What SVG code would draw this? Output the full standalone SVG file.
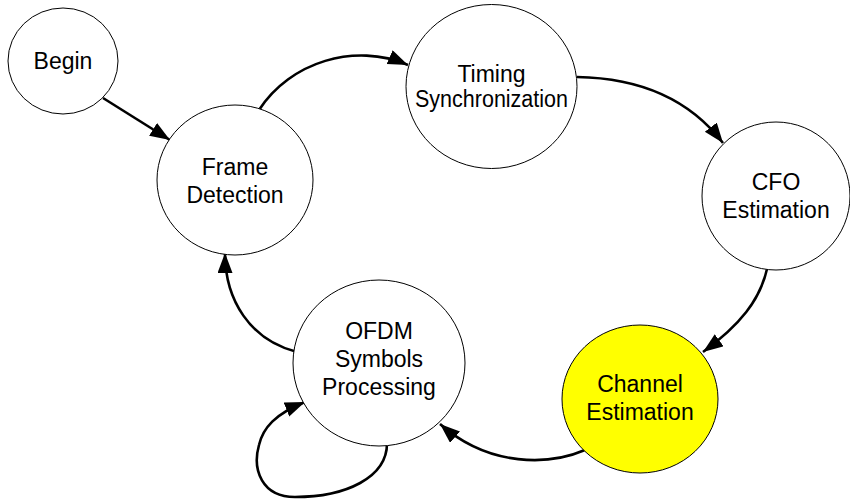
<svg xmlns="http://www.w3.org/2000/svg" width="850" height="500" viewBox="0 0 850 500">
<defs>
<style>
.n{fill:#fff;stroke:#000;stroke-width:1}
.y{fill:#ffff00;stroke:#000;stroke-width:1}
.t{font-family:"Liberation Sans",Arial,sans-serif;font-size:23px;fill:#000;text-anchor:middle}
.c{fill:none;stroke:#000;stroke-width:2.6}
</style>
<marker id="ah" markerUnits="userSpaceOnUse" markerWidth="22" markerHeight="16" refX="20" refY="7.5" orient="auto">
<path d="M0,0 L20,7.5 L0,15 z" fill="#000"/>
</marker>
</defs>
<g id="connectors">
<path class="c" d="M103,98 L170,140" marker-end="url(#ah)"/>
<path class="c" d="M259,110 C290,62 355,42 408,65" marker-end="url(#ah)"/>
<path class="c" d="M577,77 C640,78 690,100 723,143" marker-end="url(#ah)"/>
<path class="c" d="M767,269 C760,300 740,325 703,352" marker-end="url(#ah)"/>
<path class="c" d="M585,450 C550,465 490,468 440,424" marker-end="url(#ah)"/>
<path class="c" d="M297,352 C250,340 225,300 225,253" marker-end="url(#ah)"/>
<path class="c" d="M387,442 C388,478 345,497 295,497 C262,497 252,470 259,445 C263,428 275,414 305,402" marker-end="url(#ah)"/>
</g>
<g id="begin"><ellipse class="n" cx="63" cy="61" rx="55" ry="53"/><text class="t" x="63" y="69">Begin</text></g>
<g id="frame"><ellipse class="n" cx="235" cy="180" rx="78" ry="75"/><text class="t" x="235" y="175">Frame</text><text class="t" x="235" y="203">Detection</text></g>
<g id="timing"><ellipse class="n" cx="491.5" cy="86.5" rx="85.5" ry="82"/><text class="t" x="491.5" y="82">Timing</text><text class="t" x="491.5" y="107" textLength="153" lengthAdjust="spacingAndGlyphs">Synchronization</text></g>
<g id="cfo"><ellipse class="n" cx="776" cy="196" rx="74" ry="74"/><text class="t" x="776" y="190">CFO</text><text class="t" x="776" y="218">Estimation</text></g>
<g id="channel"><ellipse class="y" cx="640" cy="399" rx="78" ry="74"/><text class="t" x="640" y="392">Channel</text><text class="t" x="640" y="420">Estimation</text></g>
<g id="ofdm"><ellipse class="n" cx="379" cy="363" rx="86" ry="83"/><text class="t" x="379" y="339">OFDM</text><text class="t" x="379" y="367">Symbols</text><text class="t" x="379" y="395">Processing</text></g>
</svg>
